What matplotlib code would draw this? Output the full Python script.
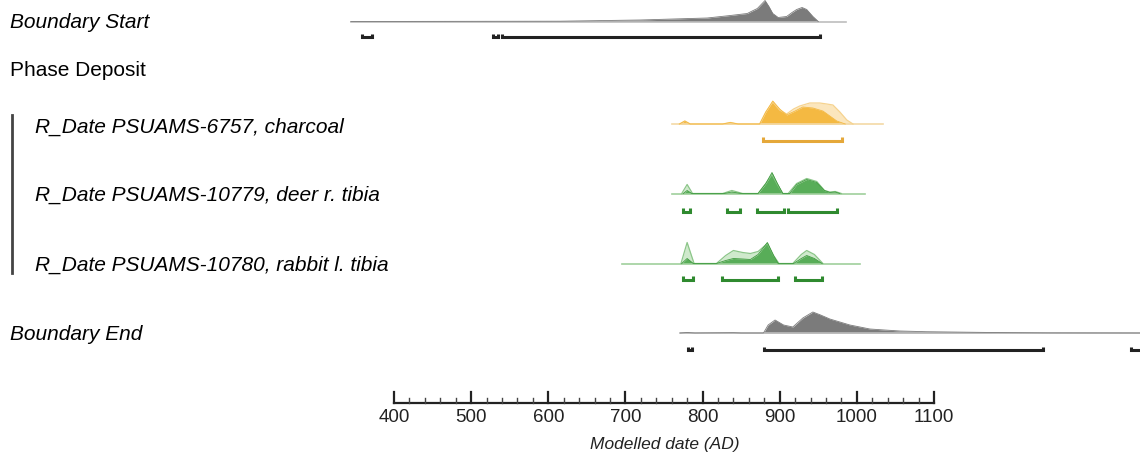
import numpy as np
import matplotlib.pyplot as plt

plt.rcParams['font.family'] = ['Liberation Sans', 'DejaVu Sans']

# row labels
labels = ['Boundary Start', 'Phase Deposit', 'R_Date PSUAMS-6757, charcoal',
          'R_Date PSUAMS-10779, deer r. tibia', 'R_Date PSUAMS-10780, rabbit l. tibia',
          'Boundary End']

# Boundary Start posterior (year AD, relative height)
bs_range = [344, 986]
bs_x = [344, 615, 719, 762, 806, 836, 858, 863, 871, 876, 881, 886, 891, 898, 909, 916, 922, 929, 935, 943, 950]
bs_y = [0, 0.3, 1.5, 2.5, 3.5, 6, 8, 10, 13, 17, 21, 15, 8, 4, 5, 9, 12, 14, 12, 5, 0]
bs_hpd = [(358, 371), (528, 535), (540, 952)]

# R_Date PSUAMS-6757 (charcoal)
c_range = [760, 1034]
c_x = [770, 777, 784, 826, 836, 846, 874, 882, 891, 900, 909, 920, 930, 943, 956, 965, 974, 985]
c_post = [0, 3, 0, 0, 1.5, 0, 0, 12, 23, 15, 9, 13, 17, 16, 13, 8, 3, 0]
c_lx = [770, 777, 784, 826, 836, 846, 874, 882, 891, 900, 909, 918, 926, 939, 952, 961, 969, 978, 987, 995]
c_like = [0, 3, 0, 0, 1.5, 0, 0, 12, 22, 14, 10, 15, 18, 21, 21, 20, 19, 12, 4, 0]
c_hpd = [(878, 981)]

# R_Date PSUAMS-10779 (deer r. tibia)
d_range = [760, 1011]
d_x = [775, 780, 786, 828, 838, 850, 872, 882, 890, 897, 904, 913, 922, 935, 948, 958, 965, 972, 978]
d_post = [0, 3, 0, 0, 1.5, 0, 0, 10, 21, 10, 0, 0, 9, 14, 11, 3, 1, 1.5, 0]
d_lx = [773, 780, 787, 826, 838, 852, 872, 882, 890, 897, 904, 911, 922, 935, 948, 958, 965, 972, 980]
d_like = [0, 9, 0, 0, 3, 0, 0, 10, 19, 9, 0, 0, 10, 15, 12, 3, 1.5, 2, 0]
d_hpd = [(775, 784), (832, 849), (870, 905), (911, 974)]

# R_Date PSUAMS-10780 (rabbit l. tibia)
r_range = [695, 1004]
r_x = [773, 780, 788, 818, 830, 840, 852, 862, 872, 884, 892, 898, 918, 928, 935, 945, 955]
r_post = [0, 5, 0, 0, 3, 5, 4.5, 4, 9, 21, 8, 0, 0, 5, 8, 5, 0]
r_lx = [772, 780, 789, 818, 830, 840, 852, 862, 872, 884, 892, 899, 917, 928, 935, 945, 956]
r_like = [0, 21, 0, 0, 8, 13, 11, 10, 12, 20, 8, 0, 0, 9, 13, 9, 0]
r_hpd = [(775, 788), (825, 898), (920, 955)]

# Boundary End posterior
be_range = [771, 1400]
be_x = [771, 780, 790, 840, 850, 879, 885, 894, 905, 917, 930, 943, 953, 965, 978, 991, 1004, 1017, 1036, 1056, 1090, 1121, 1186, 1250, 1367]
be_y = [0, 0.5, 0, 0.3, 0, 0, 8, 13, 8, 6, 15, 21, 18, 14, 11, 8, 6, 4, 3, 2, 1.3, 1, 0.4, 0.1, 0]
be_hpd = [(781, 786), (880, 1241), (1355, 1400)]

ticks_major = [400, 500, 600, 700, 800, 900, 1000, 1100]

PX = 0.7714  # pixels per year
def yr(px):
    return 400 + (px - 394) / PX

fig = plt.figure(figsize=(11.4, 4.57), dpi=100)
ax = fig.add_axes([0, 0, 1, 1])
ax.set_xlim(yr(0), yr(1140))
ax.set_ylim(457, 0)
ax.axis('off')

GRAY = '#7b7b7b'
ORANGE = '#f4b942'
ORANGE_L = '#fbe6bd'
ORANGE_B = '#e5a83a'
GREEN = '#58ad58'
GREEN_L = '#cfe9cc'
GREEN_B = '#2f8a2f'


def hpd(ranges, y, color):
    for a, b in ranges:
        ax.plot([a, a, b, b], [y - 3.5, y, y, y - 3.5], color=color, lw=2.2,
                solid_capstyle='butt', solid_joinstyle='miter')


def row(base, rng, x, y, fill, edge, lx=None, ly=None, lfill=None, ledge=None, lcol='#bdbdbd'):
    ax.plot(rng, [base, base], color=lcol, lw=1.2)
    if lx is not None:
        ax.fill_between(lx, base, base - np.array(ly), color=lfill, lw=0)
        ax.plot(lx, base - np.array(ly), color=ledge, lw=0.9)
    ax.fill_between(x, base, base - np.array(y), color=fill, lw=0)
    ax.plot(x, base - np.array(y), color=edge, lw=0.6)


fs = 15
it = 'italic'
ax.text(yr(10), 22, labels[0], fontsize=fs, style=it, va='center', ha='left')
ax.text(yr(10), 70, labels[1], fontsize=fs, va='center', ha='left')
ax.text(yr(35), 127, labels[2], fontsize=fs, style=it, va='center', ha='left')
ax.text(yr(35), 195, labels[3], fontsize=fs, style=it, va='center', ha='left')
ax.text(yr(35), 265, labels[4], fontsize=fs, style=it, va='center', ha='left')
ax.text(yr(10), 334, labels[5], fontsize=fs, style=it, va='center', ha='left')

# phase bracket
ax.plot([yr(12), yr(12)], [115, 273], color='#444444', lw=2)

row(21.5, bs_range, bs_x, bs_y, GRAY, GRAY)
hpd(bs_hpd, 37, '#222222')

row(124, c_range, c_x, c_post, ORANGE, ORANGE, c_lx, c_like, ORANGE_L, '#f6d38f', lcol='#f3d9a6')
hpd(c_hpd, 140.5, ORANGE_B)

row(193.5, d_range, d_x, d_post, GREEN, '#3f9a3f', d_lx, d_like, GREEN_L, '#8cc689', lcol='#9fcf9c')
hpd(d_hpd, 211.5, GREEN_B)

row(263.5, r_range, r_x, r_post, GREEN, '#3f9a3f', r_lx, r_like, GREEN_L, '#8cc689', lcol='#9fcf9c')
hpd(r_hpd, 279.5, GREEN_B)

row(333, be_range, be_x, be_y, GRAY, GRAY)
hpd(be_hpd, 350, '#222222')

# date axis
AY = 403
ax.plot([400, 1100], [AY, AY], color='#222222', lw=1.6)
for t in range(400, 1101, 20):
    if t in ticks_major:
        ax.plot([t, t], [AY, AY - 11], color='#222222', lw=1.6)
    else:
        ax.plot([t, t], [AY, AY - 5.5], color='#444444', lw=1)
for t in ticks_major:
    ax.text(t, 418, str(t), fontsize=13.5, ha='center', va='center', color='#222222')
ax.text(yr(665), 444, 'Modelled date (AD)', fontsize=12.5, style='italic',
        ha='center', va='center', color='#222222')

fig.savefig('out.png', dpi=100)
